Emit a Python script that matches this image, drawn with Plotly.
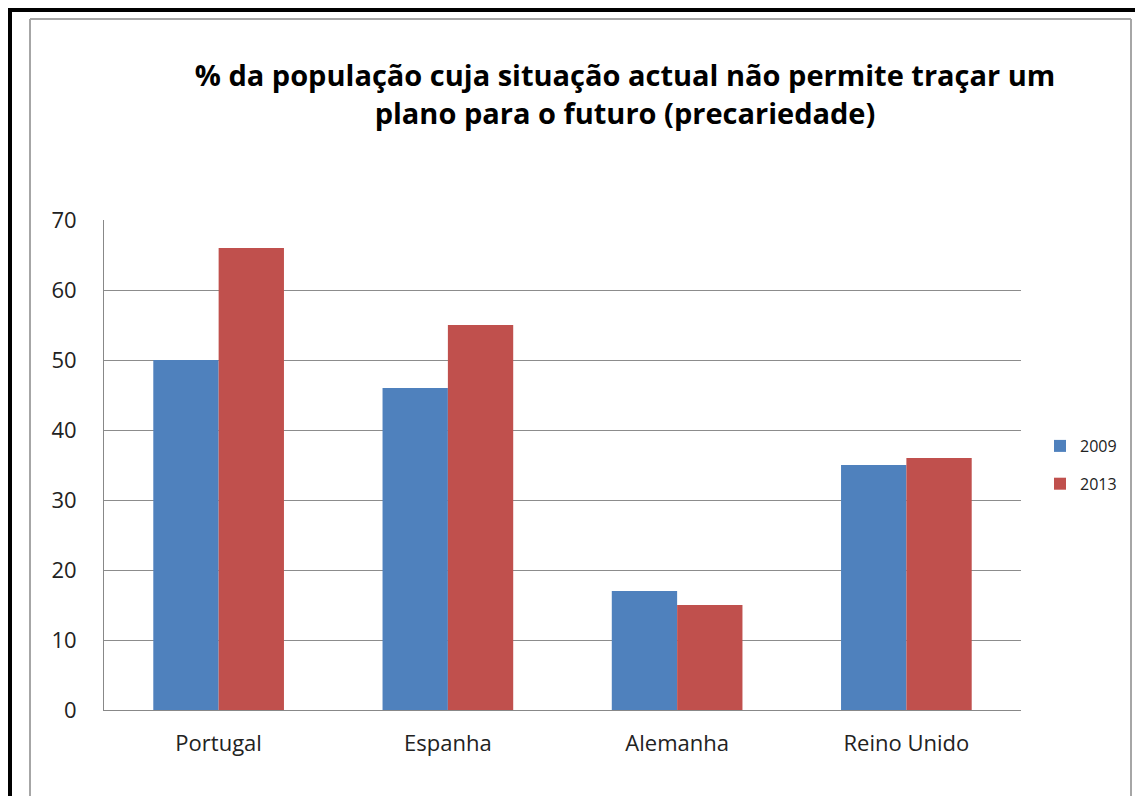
import plotly.graph_objects as go

countries = ["Portugal", "Espanha", "Alemanha", "Reino Unido"]
series_names = ["2009", "2013"]
values_2009 = [50, 46, 17, 35]
values_2013 = [66, 55, 15, 36]
colors = ["#4F81BD", "#C0504D"]

# page has an 8px body margin, so work in figure coords = reference px - 8
OFF = 8
W, H = 1143 - OFF, 796 - OFF
L, R, T, B = 104 - OFF, 1021 - OFF, 220 - OFF, 710 - OFF  # plot area in px

def px(x):
    return (x - OFF - L) / (R - L)

def py(y):
    return (B - (y - OFF)) / (B - T)

fig = go.Figure()
for i, (name, vals) in enumerate(zip(series_names, [values_2009, values_2013])):
    fig.add_trace(go.Bar(x=countries, y=vals, name=name, marker_color=colors[i],
                         marker_line_width=0, legendgroup=name))

font_family = "Open Sans, Noto Sans, sans-serif"

shapes = [
    dict(type="line", xref="paper", yref="paper", x0=px(10), x1=px(10), y0=py(8), y1=py(810),
         line=dict(color="black", width=4)),
    dict(type="line", xref="paper", yref="paper", x0=px(8), x1=px(1160), y0=py(10), y1=py(10),
         line=dict(color="black", width=4)),
    dict(type="line", xref="paper", yref="paper", x0=px(30), x1=px(1131), y0=py(19), y1=py(19),
         line=dict(color="#a6a6a6", width=2)),
    dict(type="line", xref="paper", yref="paper", x0=px(30), x1=px(30), y0=py(19), y1=py(810),
         line=dict(color="#a6a6a6", width=2)),
    dict(type="line", xref="paper", yref="paper", x0=px(1131), x1=px(1131), y0=py(19), y1=py(810),
         line=dict(color="#a6a6a6", width=2)),
]

fig.update_layout(
    width=W, height=H,
    margin=dict(l=L, r=W - R, t=T, b=H - B, pad=0),
    paper_bgcolor="white", plot_bgcolor="white",
    barmode="group", bargap=0.43, bargroupgap=0,
    title=dict(text="<b>% da população cuja situação actual não permite traçar um<br>plano para o futuro (precariedade)</b>",
               x=px(625), xref="paper", xanchor="center", y=1 - (86 - OFF) / H, yanchor="middle",
               font=dict(family=font_family, size=29, color="black")),
    font=dict(family=font_family, color="#222222"),
    xaxis=dict(showgrid=False, showline=True, linecolor="#888888", linewidth=1,
               tickfont=dict(size=22, color="#222222"), ticks="", ticklabelstandoff=14),
    yaxis=dict(range=[0, 70], dtick=10, showgrid=True, gridcolor="#8c8c8c", gridwidth=1,
               showline=True, linecolor="#888888", linewidth=1, zeroline=False,
               tickfont=dict(size=22, color="#222222"), ticks="", ticklabelstandoff=22),
    legend=dict(x=px(1040), y=py(465), xanchor="left", yanchor="middle",
                font=dict(size=16, color="#222222", family=font_family),
                tracegroupgap=14, itemwidth=30, bgcolor="rgba(0,0,0,0)"),
    shapes=shapes,
)

fig.write_html("out.html")
